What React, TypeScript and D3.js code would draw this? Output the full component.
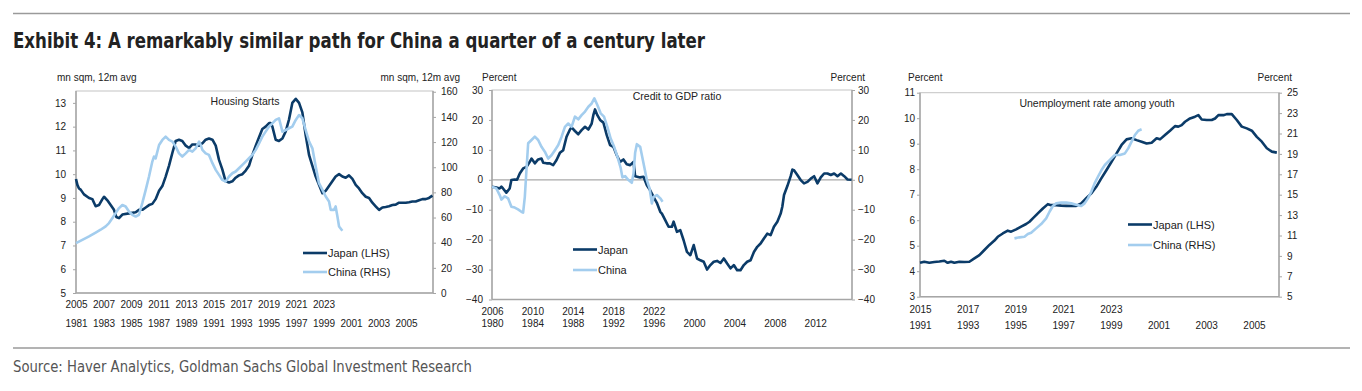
import React, { useEffect, useRef } from 'react';
import * as d3 from 'd3';

type Pt = [number, number];

// Housing starts, mn sqm 12m avg. Japan dated in Japan years, China in China years.
const housingJapan: Pt[] = [
  [1981.0, 9.8], [1981.1, 9.55], [1981.22, 9.4], [1981.34, 9.35], [1981.58, 9.15], [1981.95, 9.0],
  [1982.19, 8.95], [1982.31, 8.8], [1982.43, 8.65], [1982.67, 8.7], [1982.92, 8.95], [1983.04, 9.05],
  [1983.28, 8.9], [1983.52, 8.7], [1983.76, 8.5], [1983.93, 8.2], [1984.13, 8.15], [1984.37, 8.3],
  [1984.85, 8.35], [1985.34, 8.4], [1985.58, 8.5], [1985.82, 8.5], [1986.07, 8.6], [1986.31, 8.7],
  [1986.55, 8.75], [1986.79, 8.95], [1987.04, 9.3], [1987.28, 9.5], [1987.52, 9.9], [1987.76, 10.35],
  [1988.01, 10.9], [1988.25, 11.4], [1988.49, 11.45], [1988.73, 11.4], [1988.98, 11.2], [1989.22, 11.1],
  [1989.46, 11.25], [1989.7, 11.25], [1989.95, 11.2], [1990.19, 11.3], [1990.43, 11.45], [1990.67, 11.5],
  [1990.92, 11.45], [1991.16, 11.2], [1991.4, 10.6], [1991.64, 10.2], [1991.88, 9.7], [1992.13, 9.65],
  [1992.37, 9.7], [1992.61, 9.85], [1992.85, 9.95], [1993.1, 10.0], [1993.34, 10.15], [1993.58, 10.35],
  [1993.82, 10.8], [1994.07, 11.2], [1994.31, 11.55], [1994.55, 11.9], [1994.79, 12.0], [1995.04, 12.15],
  [1995.16, 12.15], [1995.28, 12.0], [1995.52, 11.45], [1995.76, 11.4], [1996.01, 11.5], [1996.25, 11.8],
  [1996.49, 12.3], [1996.73, 13.0], [1996.98, 13.17], [1997.22, 13.0], [1997.46, 12.6], [1997.7, 11.65],
  [1997.95, 10.8], [1998.19, 10.35], [1998.43, 9.9], [1998.67, 9.55], [1998.92, 9.2], [1999.16, 9.3],
  [1999.4, 9.5], [1999.64, 9.7], [1999.88, 9.9], [2000.13, 10.0], [2000.37, 9.9], [2000.61, 9.85],
  [2000.85, 9.95], [2001.1, 9.8], [2001.34, 9.55], [2001.58, 9.4], [2001.82, 9.2], [2002.07, 9.05],
  [2002.31, 9.0], [2002.55, 8.8], [2002.79, 8.65], [2003.04, 8.5], [2003.28, 8.6], [2003.52, 8.62],
  [2003.76, 8.65], [2004.01, 8.7], [2004.25, 8.72], [2004.49, 8.8], [2004.73, 8.8], [2004.98, 8.8],
  [2005.22, 8.82], [2005.46, 8.85], [2005.7, 8.85], [2005.95, 8.9], [2006.19, 8.95], [2006.43, 8.95],
  [2006.67, 9.0], [2006.92, 9.1],
];
const housingChina: Pt[] = [
  [2005.0, 39.7], [2005.46, 42.3], [2005.95, 45], [2006.43, 48], [2006.79, 50.3], [2007.16, 53],
  [2007.4, 55.6], [2007.64, 59.5], [2007.88, 63.5], [2008.13, 67.5], [2008.37, 70], [2008.61, 68.8],
  [2008.85, 64.8], [2009.1, 62.2], [2009.34, 60.8], [2009.58, 62.2], [2009.82, 71.4], [2010.07, 82],
  [2010.31, 92.6], [2010.55, 104.5], [2010.67, 108.5], [2010.79, 107], [2011.04, 117.7], [2011.28, 121.7],
  [2011.52, 124.3], [2011.76, 121.7], [2012.01, 120.4], [2012.25, 116.4], [2012.49, 111], [2012.73, 108.5],
  [2012.98, 111], [2013.22, 113.8], [2013.46, 112.4], [2013.7, 115], [2013.95, 120.4], [2014.07, 117.7],
  [2014.19, 113.8], [2014.43, 111], [2014.67, 109.8], [2014.92, 103.2], [2015.16, 97.9], [2015.4, 93.9],
  [2015.64, 89.9], [2015.88, 88.6], [2016.13, 92.6], [2016.37, 95.2], [2016.61, 96.6], [2016.85, 99.2],
  [2017.1, 101.9], [2017.34, 104.5], [2017.58, 107.1], [2017.82, 109.8], [2018.07, 113.8], [2018.31, 119],
  [2018.55, 124.3], [2018.79, 128.3], [2019.04, 132.3], [2019.28, 134.9], [2019.52, 137.6], [2019.76, 138.9],
  [2020.01, 128.3], [2020.25, 129.6], [2020.49, 131], [2020.73, 132.3], [2020.98, 137.6], [2021.22, 141.5],
  [2021.46, 138.9], [2021.7, 129.6], [2021.95, 120.4], [2022.19, 115], [2022.43, 100.5], [2022.67, 87.3],
  [2022.92, 82], [2023.16, 76.7], [2023.4, 72.8], [2023.52, 66.1], [2023.76, 66.1], [2023.88, 68.8],
  [2024.01, 60.8], [2024.13, 52.9], [2024.37, 49.5],
];
const housingTopYears = [2005, 2007, 2009, 2011, 2013, 2015, 2017, 2019, 2021, 2023];
const housingBottomYears = [1981, 1983, 1985, 1987, 1989, 1991, 1993, 1995, 1997, 1999, 2001, 2003, 2005];
const housingLeftTicks = [5, 6, 7, 8, 9, 10, 11, 12, 13];
const housingRightTicks = [0, 20, 40, 60, 80, 100, 120, 140, 160];

// Credit to GDP ratio, percent
const creditJapan: Pt[] = [
  [1980.0, -2.3], [1980.43, -2.6], [1980.76, -2.9], [1980.93, -2.3], [1981.09, -2.9], [1981.42, -4.3],
  [1981.75, -2.9], [1981.92, -0.1], [1982.25, 0.1], [1982.48, 0], [1982.75, 2.1], [1983.08, 3.8],
  [1983.41, 4.3], [1983.74, 6.0], [1983.91, 7.1], [1984.24, 5.5], [1984.57, 6.8], [1984.9, 7.1],
  [1985.07, 5.7], [1985.4, 5.5], [1985.73, 5.5], [1986.06, 4.9], [1986.39, 6.6], [1986.72, 9.0],
  [1987.05, 9.9], [1987.38, 14.4], [1987.72, 16.8], [1987.88, 17.5], [1988.21, 16.3], [1988.54, 15.2],
  [1988.87, 16.6], [1989.21, 17.7], [1989.54, 16.8], [1989.87, 18.8], [1990.03, 21.6], [1990.2, 23.5],
  [1990.43, 21.6], [1990.7, 20.0], [1991.03, 19.1], [1991.36, 14.9], [1991.69, 11.6], [1992.02, 11.0],
  [1992.35, 8.2], [1992.68, 6.0], [1993.01, 6.8], [1993.34, 5.2], [1993.68, 4.9], [1994.01, 6.0],
  [1994.17, 1.2], [1994.67, 0.8], [1995.0, 1.0], [1995.33, -1.8], [1995.66, -3.5], [1995.99, -5.7],
  [1996.32, -7.7], [1996.66, -10.7], [1996.82, -11.3], [1997.15, -13.5], [1997.48, -15.7], [1997.81, -15.7],
  [1997.98, -14.0], [1998.31, -17.4], [1998.64, -16.8], [1998.97, -20.2], [1999.3, -24.1], [1999.64, -25.2],
  [1999.97, -21.8], [2000.3, -26.3], [2000.63, -26.9], [2000.96, -27.4], [2001.29, -30.0], [2001.62, -28.5],
  [2001.95, -27.4], [2002.28, -27.1], [2002.62, -27.8], [2002.95, -26.3], [2003.28, -28.0], [2003.61, -29.6],
  [2003.94, -28.5], [2004.27, -30.2], [2004.6, -30.2], [2004.93, -28.5], [2005.26, -27.4], [2005.6, -26.9],
  [2005.93, -24.1], [2006.26, -22.4], [2006.59, -21.3], [2006.92, -19.6], [2007.25, -18.0], [2007.58, -18.5],
  [2007.91, -15.7], [2008.25, -14.0], [2008.58, -11.3], [2008.74, -9.0], [2008.91, -5.1], [2009.24, -2.1],
  [2009.57, 1.2], [2009.74, 3.4], [2009.9, 3.2], [2010.23, 1.6], [2010.56, -0.1], [2010.89, -1.2],
  [2011.23, -0.7], [2011.56, 0.4], [2011.89, 1.2], [2012.22, -1.2], [2012.55, 0.8], [2012.88, 2.1],
  [2013.21, 2.1], [2013.54, 1.6], [2013.87, 2.1], [2014.2, 1.2], [2014.54, 2.1], [2014.87, 1.2],
  [2015.2, 0.1], [2015.6, 0],
];
const creditChina: Pt[] = [
  [2006.0, -2.3], [2006.43, -2.9], [2006.76, -5.1], [2006.93, -6.6], [2007.26, -5.5], [2007.59, -6.2],
  [2007.92, -9.0], [2008.25, -9.3], [2008.58, -9.9], [2008.91, -10.7], [2009.08, -11.0], [2009.25, -5.7],
  [2009.41, 3.2], [2009.58, 12.2], [2009.91, 13.3], [2010.24, 14.4], [2010.57, 13.3], [2010.9, 11.0],
  [2011.23, 9.4], [2011.56, 7.1], [2011.89, 8.2], [2012.23, 9.9], [2012.56, 11.6], [2012.89, 14.4],
  [2013.22, 17.7], [2013.55, 18.8], [2013.88, 17.7], [2014.21, 21.1], [2014.54, 20.2], [2014.87, 21.6],
  [2015.21, 22.8], [2015.54, 24.4], [2015.87, 25.5], [2016.13, 27.2], [2016.43, 25.0], [2016.76, 22.2],
  [2017.09, 21.1], [2017.42, 17.7], [2017.75, 13.8], [2018.09, 11.0], [2018.42, 7.7], [2018.75, 3.8],
  [2018.91, 0.8], [2019.18, 1.2], [2019.51, -0.1], [2019.84, -1.0], [2020.01, 2.1], [2020.17, 9.0],
  [2020.34, 11.9], [2020.67, 11.0], [2021.0, 5.5], [2021.33, -0.1], [2021.6, -2.9], [2021.83, -7.9],
  [2021.99, -5.7], [2022.32, -5.1], [2022.66, -6.2], [2022.89, -7.3],
];
const creditTopYears = [2006, 2010, 2014, 2018, 2022];
const creditBottomYears = [1980, 1984, 1988, 1992, 1996, 2000, 2004, 2008, 2012];
const creditTicks = [-40, -30, -20, -10, 0, 10, 20, 30];

// Youth unemployment rate, percent
const youthJapan: Pt[] = [
  [1991.0, 4.33], [1991.18, 4.37], [1991.39, 4.33], [1991.6, 4.36], [1991.81, 4.38], [1992.02, 4.41],
  [1992.16, 4.33], [1992.3, 4.37], [1992.44, 4.33], [1992.65, 4.37], [1992.86, 4.36], [1993.07, 4.37],
  [1993.28, 4.5], [1993.49, 4.63], [1993.7, 4.83], [1993.91, 5.03], [1994.12, 5.2], [1994.26, 5.35],
  [1994.47, 5.48], [1994.68, 5.59], [1994.82, 5.55], [1995.03, 5.64], [1995.24, 5.75], [1995.45, 5.85],
  [1995.59, 5.94], [1995.73, 6.07], [1995.94, 6.27], [1996.15, 6.46], [1996.36, 6.63], [1996.5, 6.59],
  [1996.71, 6.59], [1996.92, 6.57], [1997.13, 6.56], [1997.34, 6.56], [1997.55, 6.56], [1997.76, 6.66],
  [1997.97, 6.86], [1998.18, 7.05], [1998.39, 7.31], [1998.6, 7.64], [1998.82, 7.97], [1999.03, 8.29],
  [1999.24, 8.62], [1999.45, 8.95], [1999.66, 9.17], [1999.87, 9.21], [2000.08, 9.14], [2000.29, 9.08],
  [2000.5, 9.01], [2000.71, 9.04], [2000.92, 9.21], [2001.06, 9.17], [2001.27, 9.34], [2001.48, 9.51],
  [2001.69, 9.69], [2001.83, 9.67], [2001.97, 9.73], [2002.11, 9.86], [2002.32, 9.99], [2002.53, 10.06],
  [2002.67, 10.12], [2002.81, 9.95], [2003.02, 9.93], [2003.23, 9.93], [2003.37, 9.99], [2003.51, 10.12],
  [2003.72, 10.12], [2003.86, 10.16], [2004.07, 10.16], [2004.28, 9.93], [2004.49, 9.67], [2004.7, 9.6],
  [2004.91, 9.51], [2005.12, 9.27], [2005.33, 9.08], [2005.54, 8.82], [2005.75, 8.69], [2005.96, 8.65],
];
const youthChina: Pt[] = [
  [2018.96, 10.72], [2019.17, 10.82], [2019.38, 10.88], [2019.52, 11.14], [2019.66, 11.27], [2019.87, 11.7],
  [2020.08, 12.12], [2020.29, 12.68], [2020.43, 13.33], [2020.57, 13.89], [2020.71, 14.15], [2020.92, 14.22],
  [2021.13, 14.22], [2021.34, 14.15], [2021.55, 14.02], [2021.76, 13.89], [2021.9, 14.15], [2022.04, 14.64],
  [2022.18, 15.29], [2022.32, 16.11], [2022.46, 16.76], [2022.61, 17.42], [2022.75, 17.91], [2022.96, 18.4],
  [2023.17, 18.89], [2023.38, 18.89], [2023.59, 19.05], [2023.73, 19.54], [2023.87, 20.2], [2024.01, 20.85],
  [2024.15, 21.27], [2024.29, 21.41],
];
const youthTopYears = [2015, 2017, 2019, 2021, 2023];
const youthBottomYears = [1991, 1993, 1995, 1997, 1999, 2001, 2003, 2005];
const youthLeftTicks = [3, 4, 5, 6, 7, 8, 9, 10, 11];
const youthRightTicks = [5, 7, 9, 11, 13, 15, 17, 19, 21, 23, 25];

const JAPAN = '#0b3b68';
const CHINA = '#a3cdee';
const AXIS = '#a6a6a6';
const TXT = '#222';
const FONT = "'Liberation Sans', Arial, sans-serif";
const NARROW = "'Liberation Sans Narrow', 'DejaVu Sans Condensed', sans-serif";

interface Panel {
  x0: number; x1: number; yTop: number; yBot: number;
  topDomain: [number, number]; shift: number;
  leftDomain: [number, number]; rightDomain: [number, number];
  leftTicks: number[]; rightTicks: number[];
  topYears: number[]; bottomYears: number[];
  japan: Pt[]; china: Pt[]; chinaOnRight: boolean;
  title: string; titleX: number; titleY: number;
  leftUnit: string; rightUnit: string; leftUnitX: number; rightUnitX: number;
  legendX: number; legendY: [number, number]; legendText: [string, string];
  leftPad: number; rightPad: number; topRowPad: number; bottomRowPad: number;
  zero?: boolean;
}

const panels: Panel[] = [
  {
    x0: 76, x1: 433, yTop: 91, yBot: 293,
    topDomain: [2005, 2030.96], shift: 24,
    leftDomain: [5, 13.5], rightDomain: [0, 160.6],
    leftTicks: housingLeftTicks, rightTicks: housingRightTicks,
    topYears: housingTopYears, bottomYears: housingBottomYears,
    japan: housingJapan, china: housingChina, chinaOnRight: true,
    title: 'Housing Starts', titleX: 245, titleY: 105,
    leftUnit: 'mn sqm, 12m avg', rightUnit: 'mn sqm, 12m avg', leftUnitX: 57, rightUnitX: 460,
    legendX: 303, legendY: [253, 272], legendText: ['Japan (LHS)', 'China (RHS)'],
    leftPad: 7, rightPad: 5, topRowPad: 8, bottomRowPad: 27,
  },
  {
    x0: 492, x1: 852, yTop: 90, yBot: 299.5,
    topDomain: [2006, 2041.64], shift: 26,
    leftDomain: [-40, 30], rightDomain: [-40, 30],
    leftTicks: creditTicks, rightTicks: creditTicks,
    topYears: creditTopYears, bottomYears: creditBottomYears,
    japan: creditJapan, china: creditChina, chinaOnRight: false,
    title: 'Credit to GDP ratio', titleX: 677, titleY: 100,
    leftUnit: 'Percent', rightUnit: 'Percent', leftUnitX: 482, rightUnitX: 865,
    legendX: 573, legendY: [249.5, 270], legendText: ['Japan', 'China'],
    leftPad: 6, rightPad: 3, topRowPad: 8, bottomRowPad: 20, zero: true,
  },
  {
    x0: 920, x1: 1279, yTop: 92.7, yBot: 296.7,
    topDomain: [2015, 2030.05], shift: 24,
    leftDomain: [3, 11], rightDomain: [5, 25],
    leftTicks: youthLeftTicks, rightTicks: youthRightTicks,
    topYears: youthTopYears, bottomYears: youthBottomYears,
    japan: youthJapan, china: youthChina, chinaOnRight: true,
    title: 'Unemployment rate among youth', titleX: 1097, titleY: 107,
    leftUnit: 'Percent', rightUnit: 'Percent', leftUnitX: 908, rightUnitX: 1292,
    legendX: 1128, legendY: [224.5, 245], legendText: ['Japan (LHS)', 'China (RHS)'],
    leftPad: 2, rightPad: 5, topRowPad: 9, bottomRowPad: 25,
  },
];

function drawPanel(root: d3.Selection<SVGGElement, unknown, null, undefined>, p: Panel) {
  const g = root.append('g');
  const x = d3.scaleLinear().domain(p.topDomain).range([p.x0, p.x1]);
  const xb = d3.scaleLinear().domain([p.topDomain[0] - p.shift, p.topDomain[1] - p.shift]).range([p.x0, p.x1]);
  const yL = d3.scaleLinear().domain(p.leftDomain).range([p.yBot, p.yTop]);
  const yR = d3.scaleLinear().domain(p.rightDomain).range([p.yBot, p.yTop]);

  // frame
  g.append('rect')
    .attr('x', p.x0).attr('y', p.yTop)
    .attr('width', p.x1 - p.x0).attr('height', p.yBot - p.yTop)
    .attr('fill', 'none').attr('stroke', '#c4c4c4').attr('stroke-width', 1);

  if (p.zero) {
    g.append('line')
      .attr('x1', p.x0).attr('x2', p.x1)
      .attr('y1', yL(0)).attr('y2', yL(0))
      .attr('stroke', '#a9a9a9').attr('stroke-width', 1.3);
  }

  const styleAxis = (a: d3.Selection<SVGGElement, unknown, null, undefined>) => {
    a.select('.domain').remove();
    a.selectAll('line').attr('stroke', AXIS);
    a.selectAll('text').attr('fill', TXT).style('font-family', FONT).style('font-size', '10px');
  };

  g.append('g').attr('transform', `translate(${p.x0},0)`)
    .call(d3.axisLeft(yL).tickValues(p.leftTicks).tickSize(3).tickPadding(p.leftPad).tickFormat(d3.format('d')))
    .call(styleAxis);
  g.append('g').attr('transform', `translate(${p.x1},0)`)
    .call(d3.axisRight(yR).tickValues(p.rightTicks).tickSize(3).tickPadding(p.rightPad).tickFormat(d3.format('d')))
    .call(styleAxis);
  g.append('g').attr('transform', `translate(0,${p.yBot})`)
    .call(d3.axisBottom(x).tickValues(p.topYears).tickSize(0).tickPadding(p.topRowPad).tickFormat(d3.format('d')))
    .call(styleAxis);
  g.append('g').attr('transform', `translate(0,${p.yBot})`)
    .call(d3.axisBottom(xb).tickValues(p.bottomYears).tickSize(0).tickPadding(p.bottomRowPad).tickFormat(d3.format('d')))
    .call(styleAxis);

  // axis lines
  [p.x0, p.x1].forEach(ax => {
    g.append('line').attr('x1', ax).attr('x2', ax).attr('y1', p.yTop).attr('y2', p.yBot)
      .attr('stroke', AXIS).attr('stroke-width', 1.5);
  });
  g.append('line').attr('x1', p.x0).attr('x2', p.x1).attr('y1', p.yBot).attr('y2', p.yBot)
    .attr('stroke', AXIS).attr('stroke-width', 1.5);

  const yChina = p.chinaOnRight ? yR : yL;
  const lineJ = d3.line<Pt>().x(d => xb(d[0])).y(d => yL(d[1]));
  const lineC = d3.line<Pt>().x(d => x(d[0])).y(d => yChina(d[1]));

  g.append('path').attr('d', lineJ(p.japan) ?? '')
    .attr('fill', 'none').attr('stroke', JAPAN).attr('stroke-width', 2.6).attr('stroke-linejoin', 'round');
  g.append('path').attr('d', lineC(p.china) ?? '')
    .attr('fill', 'none').attr('stroke', CHINA).attr('stroke-width', 2.6).attr('stroke-linejoin', 'round');

  // labels
  const text = (tx: number, ty: number, s: string, anchor: string, size: number) =>
    g.append('text').attr('x', tx).attr('y', ty).attr('text-anchor', anchor)
      .attr('fill', TXT).style('font-family', FONT).style('font-size', `${size}px`).text(s);

  text(p.titleX, p.titleY, p.title, 'middle', 10.5);
  text(p.leftUnitX, 80.5, p.leftUnit, 'start', 10);
  text(p.rightUnitX, 80.5, p.rightUnit, 'end', 10);

  [JAPAN, CHINA].forEach((c, i) => {
    const ly = p.legendY[i];
    g.append('line').attr('x1', p.legendX).attr('x2', p.legendX + 24)
      .attr('y1', ly).attr('y2', ly).attr('stroke', c).attr('stroke-width', 2.6);
    text(p.legendX + 25, ly + 4, p.legendText[i], 'start', 11);
  });
}

const App: React.FC = () => {
  const svgRef = useRef<SVGSVGElement>(null);

  useEffect(() => {
    const svg = d3.select(svgRef.current);
    svg.selectAll('*').remove();
    const root = svg.append('g');

    // rules, title, source
    root.append('line').attr('x1', 13).attr('x2', 1350).attr('y1', 13.5).attr('y2', 13.5)
      .attr('stroke', '#9a9a9a').attr('stroke-width', 1.5);
    root.append('line').attr('x1', 13).attr('x2', 1350).attr('y1', 348).attr('y2', 348)
      .attr('stroke', '#9a9a9a').attr('stroke-width', 1.5);
    root.append('text').attr('x', 13).attr('y', 48)
      .attr('fill', '#222').style('font-family', NARROW).style('font-weight', 'bold').style('font-size', '21px')
      .attr('textLength', 692).attr('lengthAdjust', 'spacingAndGlyphs')
      .text('Exhibit 4: A remarkably similar path for China a quarter of a century later');
    root.append('text').attr('x', 13).attr('y', 372)
      .attr('fill', '#555').style('font-family', NARROW).style('font-size', '15px')
      .attr('textLength', 459).attr('lengthAdjust', 'spacingAndGlyphs')
      .text('Source: Haver Analytics, Goldman Sachs Global Investment Research');

    panels.forEach(p => drawPanel(root, p));
  }, []);

  return (
    <svg
      ref={svgRef}
      width={1362}
      height={391}
      style={{ position: 'absolute', left: 0, top: 0, background: '#fff' }}
    />
  );
};

export default App;
